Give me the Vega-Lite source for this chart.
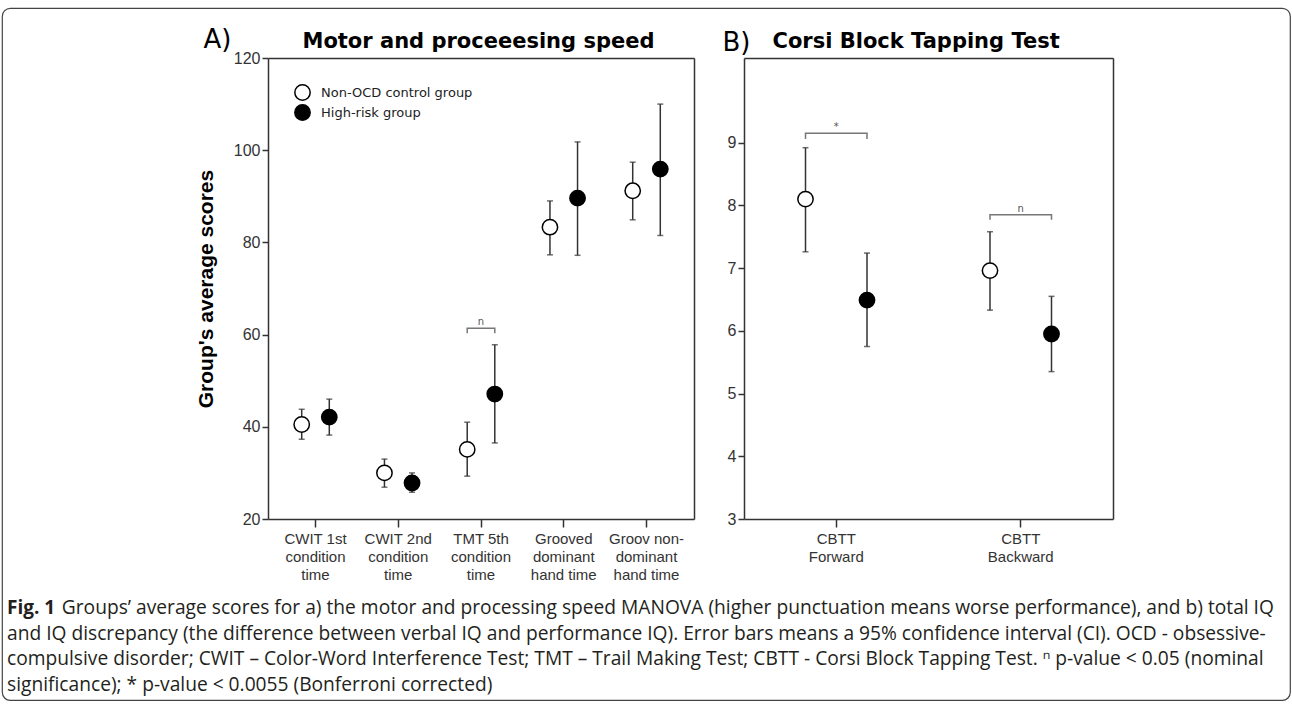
{
  "$schema": "https://vega.github.io/schema/vega-lite/v6.json",
  "width": 1288,
  "height": 692,
  "autosize": {"type": "none"},
  "padding": {"left": 2, "top": 8, "right": 2, "bottom": 6},
  "background": "white",
  "config": {
    "view": {"stroke": "#444", "strokeWidth": 1.2, "cornerRadius": 8},
    "axis": {"grid": false, "domainColor": "#333", "domainWidth": 1.5, "tickColor": "#333", "tickWidth": 1.5, "labelFont": "Liberation Sans", "labelFontSize": 15, "labelColor": "#333"},
    "text": {"font": "DejaVu Sans"}
  },
  "title": {
    "text": "Fig. 1",
    "subtitle": [
      "\u200b\u00a0\u00a0\u00a0\u00a0\u00a0\u00a0\u00a0\u00a0\u00a0\u00a0\u00a0Groups’ average scores for a) the motor and processing speed MANOVA (higher punctuation means worse performance), and b) total IQ",
      "and IQ discrepancy (the difference between verbal IQ and performance IQ). Error bars means a 95% confidence interval (CI). OCD - obsessive-",
      "compulsive disorder; CWIT – Color-Word Interference Test; TMT – Trail Making Test; CBTT - Corsi Block Tapping Test. ⁿ p-value < 0.05 (nominal",
      "significance); * p-value < 0.0055 (Bonferroni corrected)"
    ],
    "orient": "bottom",
    "anchor": "start",
    "frame": "group",
    "offset": -101,
    "dx": 5,
    "font": "Open Sans",
    "fontSize": 19,
    "fontWeight": "bold",
    "color": "#231f20",
    "subtitleFont": "Open Sans",
    "subtitleFontSize": 19.2,
    "subtitleColor": "#231f20",
    "subtitleLineHeight": 25.5,
    "subtitlePadding": -19
  },
  "datasets": {
    "ptsA": [
      {"cat": "CWIT 1st|condition|time", "group": "Non-OCD control group", "mean": 40.5, "lo": 37.3, "hi": 43.8},
      {"cat": "CWIT 1st|condition|time", "group": "High-risk group", "mean": 42.1, "lo": 38.2, "hi": 46.0},
      {"cat": "CWIT 2nd|condition|time", "group": "Non-OCD control group", "mean": 30.0, "lo": 26.9, "hi": 33.0},
      {"cat": "CWIT 2nd|condition|time", "group": "High-risk group", "mean": 27.8, "lo": 25.8, "hi": 30.0},
      {"cat": "TMT 5th|condition|time", "group": "Non-OCD control group", "mean": 35.1, "lo": 29.3, "hi": 41.0},
      {"cat": "TMT 5th|condition|time", "group": "High-risk group", "mean": 47.1, "lo": 36.5, "hi": 57.8},
      {"cat": "Grooved|dominant|hand time", "group": "Non-OCD control group", "mean": 83.3, "lo": 77.3, "hi": 89.0},
      {"cat": "Grooved|dominant|hand time", "group": "High-risk group", "mean": 89.6, "lo": 77.2, "hi": 101.8},
      {"cat": "Groov non-|dominant|hand time", "group": "Non-OCD control group", "mean": 91.2, "lo": 84.9, "hi": 97.4},
      {"cat": "Groov non-|dominant|hand time", "group": "High-risk group", "mean": 95.9, "lo": 81.5, "hi": 110.0}
    ],
    "ptsB": [
      {"cat": "CBTT|Forward", "group": "Non-OCD control group", "mean": 8.10, "lo": 7.26, "hi": 8.92},
      {"cat": "CBTT|Forward", "group": "High-risk group", "mean": 6.49, "lo": 5.75, "hi": 7.24},
      {"cat": "CBTT|Backward", "group": "Non-OCD control group", "mean": 6.96, "lo": 6.33, "hi": 7.58},
      {"cat": "CBTT|Backward", "group": "High-risk group", "mean": 5.95, "lo": 5.35, "hi": 6.55}
    ],
    "brA": [
      {"cat": "TMT 5th|condition|time", "group": "Non-OCD control group", "ord": 1, "y": 60.3},
      {"cat": "TMT 5th|condition|time", "group": "Non-OCD control group", "ord": 2, "y": 61.4},
      {"cat": "TMT 5th|condition|time", "group": "High-risk group", "ord": 3, "y": 61.4},
      {"cat": "TMT 5th|condition|time", "group": "High-risk group", "ord": 4, "y": 60.3}
    ],
    "labA": [
      {"cat": "TMT 5th|condition|time", "y": 61.4, "label": "n"}
    ],
    "brB": [
      {"cat": "CBTT|Forward", "group": "Non-OCD control group", "ord": 1, "y": 9.06},
      {"cat": "CBTT|Forward", "group": "Non-OCD control group", "ord": 2, "y": 9.15},
      {"cat": "CBTT|Forward", "group": "High-risk group", "ord": 3, "y": 9.15},
      {"cat": "CBTT|Forward", "group": "High-risk group", "ord": 4, "y": 9.06},
      {"cat": "CBTT|Backward", "group": "Non-OCD control group", "ord": 1, "y": 7.77},
      {"cat": "CBTT|Backward", "group": "Non-OCD control group", "ord": 2, "y": 7.85},
      {"cat": "CBTT|Backward", "group": "High-risk group", "ord": 3, "y": 7.85},
      {"cat": "CBTT|Backward", "group": "High-risk group", "ord": 4, "y": 7.77}
    ],
    "labB": [
      {"cat": "CBTT|Forward", "y": 9.15, "label": "*"},
      {"cat": "CBTT|Backward", "y": 7.85, "label": "n"}
    ]
  },
  "layer": [
    {
      "resolve": {"axis": {"x": "independent", "y": "independent"}},
      "layer": [
        {
          "data": {"name": "ptsA"},
          "mark": {"type": "rule", "color": "#333", "strokeWidth": 1.5},
          "encoding": {
            "x": {"field": "cat", "type": "nominal",
              "scale": {"type": "band", "domain": ["CWIT 1st|condition|time", "CWIT 2nd|condition|time", "TMT 5th|condition|time", "Grooved|dominant|hand time", "Groov non-|dominant|hand time"], "range": [266, 692], "paddingInner": 0, "paddingOuter": 0.074},
              "axis": {"orient": "top", "offset": -50, "labels": false, "ticks": false, "title": "Motor and proceeesing speed", "titleFont": "DejaVu Sans", "titleFontSize": 21, "titleFontWeight": "bold", "titleColor": "black", "titleAlign": "left", "titleBaseline": "alphabetic", "titleX": 300, "titleY": -11}},
            "xOffset": {"field": "group", "type": "nominal", "scale": {"type": "point", "domain": ["Non-OCD control group", "High-risk group"], "padding": 1.13}},
            "y": {"field": "lo", "type": "quantitative",
              "scale": {"domain": [20, 120], "range": [511, 50], "nice": false, "zero": false},
              "axis": {"orient": "right", "offset": -596, "labels": false, "ticks": false, "title": "A)", "titleAngle": 0, "titleFont": "DejaVu Sans", "titleFontSize": 26, "titleFontWeight": "normal", "titleColor": "black", "titleAlign": "left", "titleBaseline": "alphabetic", "titleX": -491, "titleY": 39}},
            "y2": {"field": "hi"}
          }
        },
        {
          "data": {"name": "ptsA"},
          "mark": {"type": "tick", "color": "#333", "size": 6, "thickness": 1.5},
          "encoding": {
            "x": {"field": "cat", "type": "nominal", "axis": null},
            "xOffset": {"field": "group", "type": "nominal"},
            "y": {"field": "lo", "type": "quantitative", "axis": null}
          }
        },
        {
          "data": {"name": "ptsA"},
          "mark": {"type": "tick", "color": "#333", "size": 6, "thickness": 1.5},
          "encoding": {
            "x": {"field": "cat", "type": "nominal", "axis": null},
            "xOffset": {"field": "group", "type": "nominal"},
            "y": {"field": "hi", "type": "quantitative", "axis": null}
          }
        },
        {
          "data": {"name": "ptsA"},
          "mark": {"type": "point", "shape": "circle", "filled": true, "stroke": "black", "strokeWidth": 1.5, "size": 235, "opacity": 1},
          "encoding": {
            "x": {"field": "cat", "type": "nominal",
              "axis": {"orient": "bottom", "offset": -181, "title": null, "labelAngle": 0, "labelExpr": "split(datum.label, '|')", "labelLineHeight": 18, "tickSize": 8, "labelPadding": 4, "labelBaseline": "top"}},
            "xOffset": {"field": "group", "type": "nominal"},
            "y": {"field": "mean", "type": "quantitative",
              "axis": {"orient": "left", "offset": -266, "values": [20, 40, 60, 80, 100, 120], "tickSize": 6, "labelPadding": 2, "labelFontSize": 16, "title": "Group's average scores", "titleFont": "Liberation Sans", "titleFontSize": 21, "titleFontWeight": "bold", "titleColor": "black", "titlePadding": 17}},
            "fill": {"field": "group", "type": "nominal",
              "scale": {"domain": ["Non-OCD control group", "High-risk group"], "range": ["white", "black"]},
              "legend": {"orient": "none", "legendX": 292, "legendY": 76, "title": null, "symbolType": "circle", "symbolSize": 235, "symbolStrokeColor": "black", "symbolStrokeWidth": 1.5, "labelFont": "DejaVu Sans", "labelFontSize": 13, "labelColor": "#222", "labelOffset": 10, "rowPadding": -10, "padding": 0}}
          }
        },
        {
          "data": {"name": "brA"},
          "mark": {"type": "line", "color": "#777", "strokeWidth": 1.5},
          "encoding": {
            "x": {"field": "cat", "type": "nominal", "axis": null},
            "xOffset": {"field": "group", "type": "nominal"},
            "y": {"field": "y", "type": "quantitative", "axis": null},
            "order": {"field": "ord", "type": "quantitative"},
            "detail": {"field": "cat", "type": "nominal"}
          }
        },
        {
          "data": {"name": "labA"},
          "mark": {"type": "text", "baseline": "bottom", "dy": -1, "fontSize": 10, "color": "#555"},
          "encoding": {
            "x": {"field": "cat", "type": "nominal", "axis": null},
            "y": {"field": "y", "type": "quantitative", "axis": null},
            "text": {"field": "label"}
          }
        }
      ]
    },
    {
      "resolve": {"axis": {"x": "independent", "y": "independent"}},
      "layer": [
        {
          "data": {"name": "ptsB"},
          "mark": {"type": "rule", "color": "#333", "strokeWidth": 1.5},
          "encoding": {
            "x": {"field": "cat", "type": "nominal",
              "scale": {"type": "band", "domain": ["CBTT|Forward", "CBTT|Backward"], "range": [742, 1111], "paddingInner": 0, "paddingOuter": 0},
              "axis": {"orient": "top", "offset": -50, "labels": false, "ticks": false, "title": "Corsi Block Tapping Test", "titleFont": "DejaVu Sans", "titleFontSize": 21, "titleFontWeight": "bold", "titleColor": "black", "titleAlign": "left", "titleBaseline": "alphabetic", "titleX": 770, "titleY": -11}},
            "xOffset": {"field": "group", "type": "nominal", "scale": {"type": "point", "domain": ["Non-OCD control group", "High-risk group"], "padding": 1.806}},
            "y": {"field": "lo", "type": "quantitative",
              "scale": {"domain": [3, 10.35], "range": [511, 50], "nice": false, "zero": false},
              "axis": {"orient": "right", "offset": -177, "labels": false, "ticks": false, "title": "B)", "titleAngle": 0, "titleFont": "DejaVu Sans", "titleFontSize": 26, "titleFontWeight": "normal", "titleColor": "black", "titleAlign": "left", "titleBaseline": "alphabetic", "titleX": -391, "titleY": 42}},
            "y2": {"field": "hi"}
          }
        },
        {
          "data": {"name": "ptsB"},
          "mark": {"type": "tick", "color": "#333", "size": 6, "thickness": 1.5},
          "encoding": {
            "x": {"field": "cat", "type": "nominal", "axis": null},
            "xOffset": {"field": "group", "type": "nominal"},
            "y": {"field": "lo", "type": "quantitative", "axis": null}
          }
        },
        {
          "data": {"name": "ptsB"},
          "mark": {"type": "tick", "color": "#333", "size": 6, "thickness": 1.5},
          "encoding": {
            "x": {"field": "cat", "type": "nominal", "axis": null},
            "xOffset": {"field": "group", "type": "nominal"},
            "y": {"field": "hi", "type": "quantitative", "axis": null}
          }
        },
        {
          "data": {"name": "ptsB"},
          "mark": {"type": "point", "shape": "circle", "filled": true, "stroke": "black", "strokeWidth": 1.5, "size": 235, "opacity": 1},
          "encoding": {
            "x": {"field": "cat", "type": "nominal",
              "axis": {"orient": "bottom", "offset": -181, "title": null, "labelAngle": 0, "labelExpr": "split(datum.label, '|')", "labelLineHeight": 18, "tickSize": 8, "labelPadding": 4, "labelBaseline": "top"}},
            "xOffset": {"field": "group", "type": "nominal"},
            "y": {"field": "mean", "type": "quantitative",
              "axis": {"orient": "left", "offset": -742, "values": [3, 4, 5, 6, 7, 8, 9], "tickSize": 6, "labelPadding": 2, "labelFontSize": 16, "title": null}},
            "fill": {"field": "group", "type": "nominal",
              "legend": {"orient": "none", "legendX": 292, "legendY": 76, "title": null, "symbolType": "circle", "symbolSize": 235, "symbolStrokeColor": "black", "symbolStrokeWidth": 1.5, "labelFont": "DejaVu Sans", "labelFontSize": 13, "labelColor": "#222", "labelOffset": 10, "rowPadding": -10, "padding": 0}}
          }
        },
        {
          "data": {"name": "brB"},
          "mark": {"type": "line", "color": "#777", "strokeWidth": 1.5},
          "encoding": {
            "x": {"field": "cat", "type": "nominal", "axis": null},
            "xOffset": {"field": "group", "type": "nominal"},
            "y": {"field": "y", "type": "quantitative", "axis": null},
            "order": {"field": "ord", "type": "quantitative"},
            "detail": {"field": "cat", "type": "nominal"}
          }
        },
        {
          "data": {"name": "labB"},
          "mark": {"type": "text", "baseline": "bottom", "dy": -1, "fontSize": 10, "color": "#555"},
          "encoding": {
            "x": {"field": "cat", "type": "nominal", "axis": null},
            "y": {"field": "y", "type": "quantitative", "axis": null},
            "text": {"field": "label"}
          }
        }
      ]
    }
  ],
  "resolve": {
    "scale": {"x": "independent", "y": "independent", "xOffset": "independent"},
    "axis": {"x": "independent", "y": "independent"}
  }
}
